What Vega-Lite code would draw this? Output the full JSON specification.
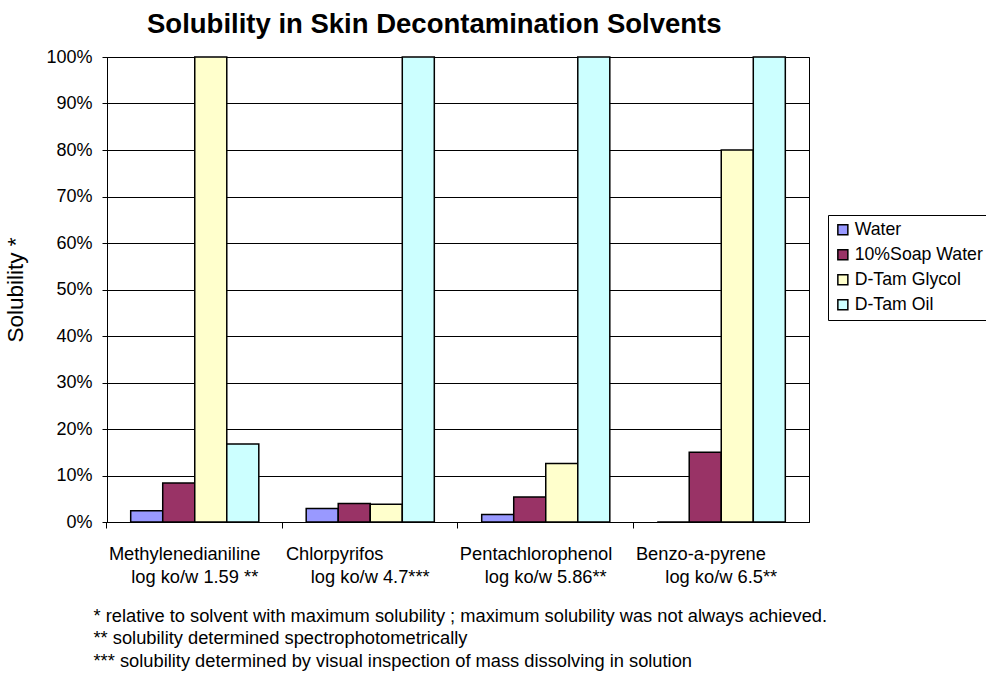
{
  "$schema": "https://vega.github.io/schema/vega-lite/v6.json",
  "width": 702,
  "height": 465,
  "autosize": {"type": "none"},
  "padding": {"left": 107, "top": 57, "right": 177, "bottom": 151},
  "background": "white",
  "title": {
    "text": "Solubility in Skin Decontamination Solvents",
    "font": "Liberation Sans",
    "fontSize": 27.5,
    "fontWeight": "bold",
    "color": "black",
    "anchor": "start",
    "frame": "group",
    "dx": 40,
    "offset": 10
  },
  "data": {
    "values": [
      {"compound": "Methylenedianiline", "solvent": "Water", "value": 0.024},
      {"compound": "Methylenedianiline", "solvent": "10%Soap Water", "value": 0.084},
      {"compound": "Methylenedianiline", "solvent": "D-Tam Glycol", "value": 1.0},
      {"compound": "Methylenedianiline", "solvent": "D-Tam Oil", "value": 0.168},
      {"compound": "Chlorpyrifos", "solvent": "Water", "value": 0.029},
      {"compound": "Chlorpyrifos", "solvent": "10%Soap Water", "value": 0.040},
      {"compound": "Chlorpyrifos", "solvent": "D-Tam Glycol", "value": 0.038},
      {"compound": "Chlorpyrifos", "solvent": "D-Tam Oil", "value": 1.0},
      {"compound": "Pentachlorophenol", "solvent": "Water", "value": 0.016},
      {"compound": "Pentachlorophenol", "solvent": "10%Soap Water", "value": 0.054},
      {"compound": "Pentachlorophenol", "solvent": "D-Tam Glycol", "value": 0.126},
      {"compound": "Pentachlorophenol", "solvent": "D-Tam Oil", "value": 1.0},
      {"compound": "Benzo-a-pyrene", "solvent": "Water", "value": 0.0},
      {"compound": "Benzo-a-pyrene", "solvent": "10%Soap Water", "value": 0.150},
      {"compound": "Benzo-a-pyrene", "solvent": "D-Tam Glycol", "value": 0.80},
      {"compound": "Benzo-a-pyrene", "solvent": "D-Tam Oil", "value": 1.0}
    ]
  },
  "mark": {"type": "bar", "stroke": "black", "strokeWidth": 1.5},
  "encoding": {
    "x": {
      "field": "compound",
      "type": "nominal",
      "sort": ["Methylenedianiline", "Chlorpyrifos", "Pentachlorophenol", "Benzo-a-pyrene"],
      "scale": {"paddingInner": 0.27, "paddingOuter": 0.135},
      "axis": {
        "bandPosition": -0.185,
        "labelOffset": 0,
        "labelAngle": 0,
        "labelAlign": "center",
        "labelBaseline": "top",
        "labelFont": "Liberation Sans",
        "labelFontSize": 18.3,
        "labelColor": "black",
        "labelPadding": 17,
        "labelLineHeight": 23.5,
        "labelOverlap": false,
        "labelBound": false,
        "labelFlush": false,
        "labelExpr": "datum.value == 'Methylenedianiline' ? ['Methylenedianiline\u2007\u2007\u200b', 'log ko/w 1.59 **'] : datum.value == 'Chlorpyrifos' ? ['Chlorpyrifos\u2007\u2007\u2007\u2007\u2007\u2007\u2007\u200b', 'log ko/w 4.7***'] : datum.value == 'Pentachlorophenol' ? ['Pentachlorophenol\u2007\u2002\u200b', 'log ko/w 5.86**'] : ['Benzo-a-pyrene\u2007\u2007\u2007\u2007\u200b', 'log ko/w 6.5**']",
        "tickColor": "black",
        "tickSize": 6,
        "domainColor": "black",
        "grid": false,
        "title": [
          "* relative to solvent with maximum solubility ; maximum solubility was not always achieved.",
          "** solubility determined spectrophotometrically",
          "*** solubility determined by visual inspection of mass dissolving in solution"
        ],
        "titleFont": "Liberation Sans",
        "titleFontSize": 18.3,
        "titleFontWeight": "normal",
        "titleColor": "black",
        "titleAnchor": "start",
        "titleAlign": "left",
        "titleBaseline": "top",
        "titleX": -14,
        "titleY": 85,
        "titleLineHeight": 22.5
      }
    },
    "xOffset": {
      "field": "solvent",
      "type": "nominal",
      "sort": ["Water", "10%Soap Water", "D-Tam Glycol", "D-Tam Oil"],
      "scale": {"paddingInner": 0, "paddingOuter": 0}
    },
    "y": {
      "field": "value",
      "type": "quantitative",
      "scale": {"domain": [0, 1], "nice": false},
      "axis": {
        "values": [0, 0.1, 0.2, 0.3, 0.4, 0.5, 0.6, 0.7, 0.8, 0.9, 1.0],
        "format": ".0%",
        "labelFont": "Liberation Sans",
        "labelFontSize": 18,
        "labelColor": "black",
        "labelPadding": 10,
        "tickColor": "black",
        "tickSize": 5,
        "domainColor": "black",
        "grid": true,
        "gridColor": "black",
        "gridOpacity": 1,
        "title": "Solubility *",
        "titleFont": "Liberation Sans",
        "titleFontSize": 22.5,
        "titleFontWeight": "normal",
        "titleColor": "black",
        "titlePadding": 18
      }
    },
    "fill": {
      "field": "solvent",
      "type": "nominal",
      "sort": ["Water", "10%Soap Water", "D-Tam Glycol", "D-Tam Oil"],
      "scale": {"range": ["#9999FF", "#993366", "#FFFFCC", "#CCFFFF"]},
      "legend": {
        "title": null,
        "orient": "none",
        "legendX": 721,
        "legendY": 158,
        "strokeColor": "black",
        "padding": 6,
        "symbolType": "square",
        "symbolSize": 100,
        "symbolStrokeColor": "black",
        "symbolStrokeWidth": 1.5,
        "symbolOpacity": 1,
        "labelFont": "Liberation Sans",
        "labelFontSize": 17.7,
        "labelColor": "black",
        "labelOffset": 3,
        "rowPadding": 6,
        "fillColor": "white"
      }
    }
  },
  "config": {
    "view": {"stroke": "black", "strokeWidth": 1},
    "axis": {"domainWidth": 1, "tickWidth": 1, "gridWidth": 1}
  }
}
